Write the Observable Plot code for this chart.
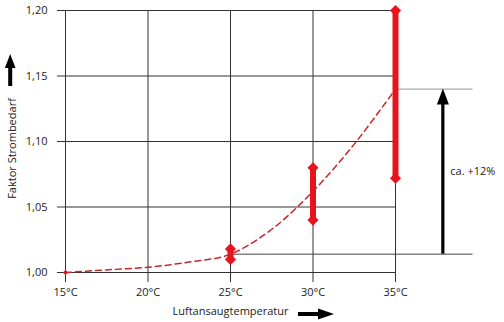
<!DOCTYPE html>
<html><head><meta charset="utf-8">
<script src="https://cdn.jsdelivr.net/npm/d3@7"></script>
<script src="https://cdn.jsdelivr.net/npm/@observablehq/plot@0.6"></script>
<style>body{margin:0;background:#fff}svg{display:block}</style>
</head><body><div id="chart"></div>
<script>
const xTicks = [15, 20, 25, 30, 35];
const yTicks = [1.00, 1.05, 1.10, 1.15, 1.20];
const curveT = [15, 17.5, 20, 22.5, 25, 27.5, 30, 32.5, 35];
const curveF = [1.000, 1.002, 1.004, 1.008, 1.014, 1.033, 1.062, 1.098, 1.140];
const rangeT = [25, 30, 35];
const rangeLow = [1.010, 1.040, 1.072];
const rangeHigh = [1.018, 1.080, 1.200];
const startT = [15];
const startF = [1.000];
const baseT = 25, baseF = 1.014, topT = 35, topF = 1.140;
const arrowT = 37.9, lineEndT = 39.7;
const deltaLabel = "ca. +12%";
const xLabel = "Luftansaugtemperatur";
const yLabel = "Faktor Strombedarf";

const curve = curveT.map((t, i) => ({t, f: curveF[i]}));
const ranges = rangeT.map((t, i) => ({t, lo: rangeLow[i], hi: rangeHigh[i]}));
const ends = ranges.flatMap(d => [{t: d.t, f: d.lo}, {t: d.t, f: d.hi}]);
const start = startT.map((t, i) => ({t, f: startF[i]}));
const fmt = d => d.toFixed(2).replace(".", ",");
const font = "'Open Sans', sans-serif";

function decor(index, scales, values, dim) {
  const g = d3.create("svg:g");
  const x = scales.x, y = scales.y;
  // +12% arrow
  const ax = x(arrowT), y0 = y(baseF), y1 = y(topF);
  g.append("line").attr("x1", ax).attr("x2", ax).attr("y1", y0).attr("y2", y1 + 14)
    .attr("stroke", "#000").attr("stroke-width", 3.2);
  g.append("path").attr("d", `M${ax},${y1}L${ax + 6},${y1 + 16}L${ax - 6},${y1 + 16}Z`).attr("fill", "#000");
  // y label arrow
  g.append("rect").attr("x", 8.2).attr("y", 66).attr("width", 4).attr("height", 20).attr("fill", "#000");
  g.append("path").attr("d", "M10.2,54L15.5,68L4.9,68Z").attr("fill", "#000");
  // x label arrow
  g.append("rect").attr("x", 298).attr("y", 312).attr("width", 22).attr("height", 4).attr("fill", "#000");
  g.append("path").attr("d", "M334,314L318,308.5L318,319.5Z").attr("fill", "#000");
  return g.node();
}

const chart = Plot.plot({
  width: 504, height: 322,
  marginLeft: 65, marginRight: 109, marginTop: 10, marginBottom: 50,
  style: {fontFamily: font, fontSize: "11px", color: "#222", background: "#fff"},
  x: {domain: [15, 35]},
  y: {domain: [1.0, 1.2]},
  marks: [
    Plot.gridY(yTicks, {stroke: "#333", strokeOpacity: 1}),
    Plot.gridX(xTicks, {stroke: "#333", strokeOpacity: 1}),
    Plot.axisY(yTicks, {tickFormat: fmt, tickSize: 8, tickPadding: 10, stroke: "#333", label: null, fontSize: 11}),
    Plot.axisX(xTicks, {tickFormat: d => d + "°C", tickSize: 10, tickPadding: 6, stroke: "#333", label: null, fontSize: 11}),
    Plot.ruleY([topF], {x1: topT, x2: lineEndT, stroke: "#aaa", strokeWidth: 1.2}),
    Plot.ruleY([baseF], {x1: baseT, x2: lineEndT, stroke: "#444", strokeWidth: 1}),
    Plot.line(curve, {x: "t", y: "f", curve: "catmull-rom", stroke: "#c8262b", strokeWidth: 1.5, strokeDasharray: "6,4"}),
    Plot.ruleX(ranges, {x: "t", y1: "lo", y2: "hi", stroke: "#e8141c", strokeWidth: 6}),
    Plot.dot(ends, {x: "t", y: "f", symbol: "diamond2", r: 5, fill: "#e8141c", stroke: "none"}),
    Plot.dot(start, {x: "t", y: "f", symbol: "diamond2", r: 2.4, fill: "#e8141c", stroke: "none"}),
    Plot.text([deltaLabel], {x: arrowT, y: (baseF + topF) / 2, dx: 7, textAnchor: "start", fill: "#222", fontSize: 11}),
    Plot.text([xLabel], {x: 25, frameAnchor: "bottom", dy: 42, fill: "#222", fontSize: 11}),
    Plot.text([yLabel], {frameAnchor: "left", textAnchor: "middle", dx: -53, dy: 7, rotate: -90, fill: "#222", fontSize: 11}),
    decor
  ]
});
document.getElementById("chart").appendChild(chart);
</script></body></html>
